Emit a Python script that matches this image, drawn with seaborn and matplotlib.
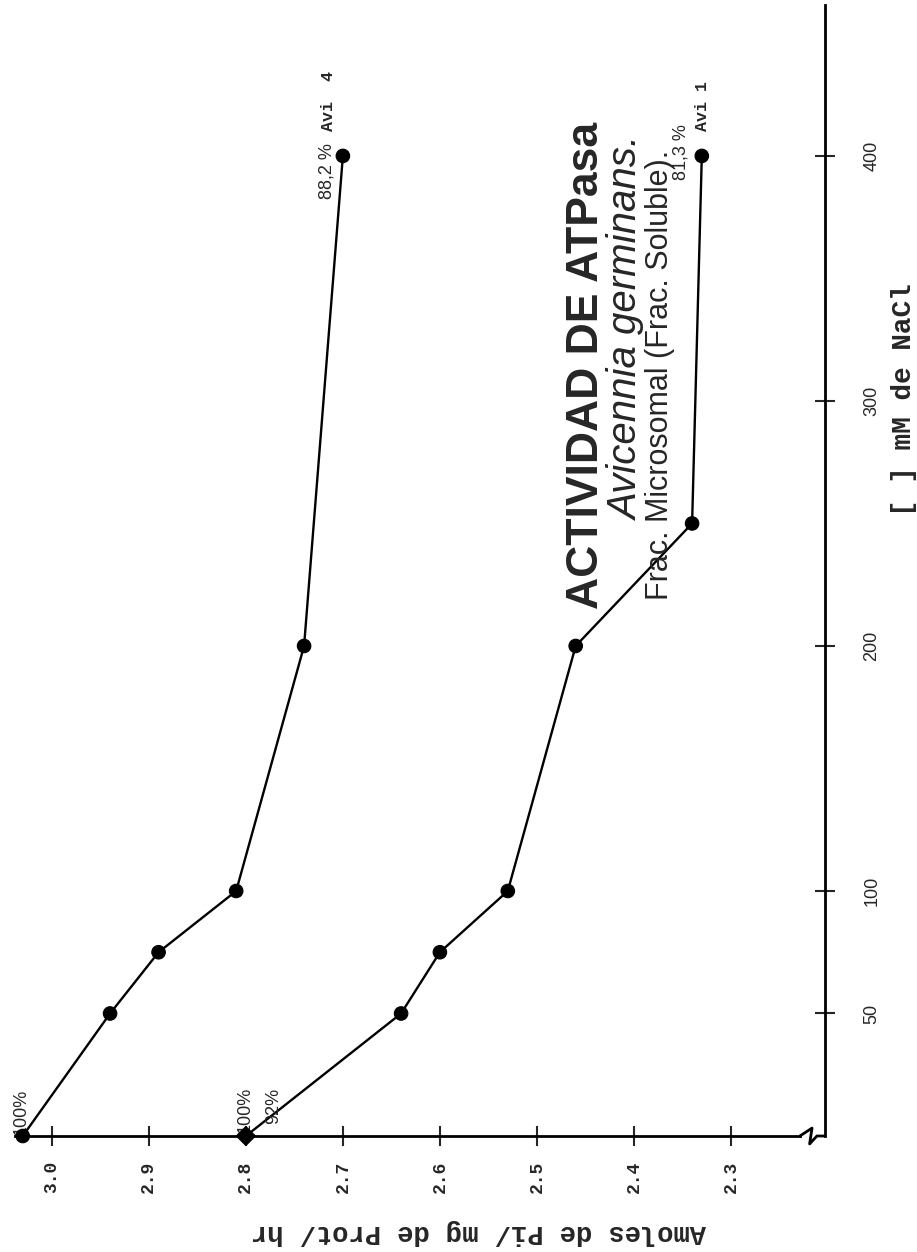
import pandas as pd
import matplotlib
matplotlib.use("Agg")
import matplotlib.pyplot as plt
import seaborn as sns

# Datos (pagina girada 90 grados)
nacl_avi4 = [0, 50, 75, 100, 200, 400]
act_avi4 = [3.03, 2.94, 2.89, 2.81, 2.74, 2.70]
nacl_avi1 = [0, 50, 75, 100, 200, 250, 400]
act_avi1 = [2.80, 2.64, 2.60, 2.53, 2.46, 2.34, 2.33]

act_ticks = [3.0, 2.9, 2.8, 2.7, 2.6, 2.5, 2.4, 2.3]
act_ticklabels = ["3.0", "2.9", "2.8", "2.7", "2.6", "2.5", "2.4", "2.3"]
nacl_ticks = [50, 100, 200, 300, 400]
nacl_ticklabels = ["50", "100", "200", "300", "400"]

sns.set_style("white")
plt.rcParams["font.family"] = ["Liberation Sans", "DejaVu Sans"]
mono = ["Liberation Mono", "DejaVu Sans Mono"]

fig = plt.figure(figsize=(9.17, 12.52), dpi=100)
ax = fig.add_axes([15 / 917, 1 - 1136 / 1252, 810 / 917, 1131 / 1252])

df4 = pd.DataFrame({"act": act_avi4, "nacl": nacl_avi4})
df1 = pd.DataFrame({"act": act_avi1, "nacl": nacl_avi1})
df1["forma"] = ["d"] + ["c"] * (len(df1) - 1)
df4["forma"] = "c"

for df in (df4, df1):
    sns.lineplot(data=df, x="act", y="nacl", sort=False, estimator=None,
                 color="black", linewidth=1.7, ax=ax)
    sns.scatterplot(data=df, x="act", y="nacl", style="forma",
                    markers={"c": "o", "d": "D"}, s=95, color="black",
                    edgecolor="black", legend=False, ax=ax, zorder=4, clip_on=False)

ax.set_xlim(3.038, 2.203)
ax.set_ylim(0, 461.6)

# eje de actividad (abajo)
ax.set_xticks(act_ticks)
ax.set_xticklabels(act_ticklabels, family=mono, weight="bold", fontsize=13)
ax.tick_params(axis="x", direction="inout", length=15, width=1.5,
               pad=10, labelrotation=90, bottom=True)

# eje de NaCl (derecha)
ax.yaxis.tick_right()
ax.set_yticks(nacl_ticks)
ax.set_yticklabels(nacl_ticklabels, fontsize=13, va="center")
ax.tick_params(axis="y", direction="inout", length=15, width=1.5,
               pad=20, labelrotation=90, right=True, left=False)

for side in ["top", "left"]:
    ax.spines[side].set_visible(False)
for side in ["bottom", "right"]:
    ax.spines[side].set_linewidth(2)
    ax.spines[side].set_color("black")

# corte del eje
x0, x1 = ax.get_xlim()
ax.spines["bottom"].set_bounds(x0, x0 + 0.969 * (x1 - x0))
ax.plot([0.969, 0.984, 0.981, 0.99, 1.0], [0.0, 0.007, -0.007, 0.0, 0.0],
        transform=ax.transAxes, color="black", linewidth=2, clip_on=False)

ax.set_xlabel("Amoles de Pi/ mg de Prot/ hr", family=mono, weight="bold",
              fontsize=19.5, rotation=180, va="center", ha="center")
ax.xaxis.set_label_coords((478 - 15) / 810, -(1232 - 1136) / 1131)
ax.yaxis.set_label_position("right")
ax.set_ylabel("[ ] mM de NaCl", family=mono, weight="bold", fontsize=20,
              rotation=90, va="center", ha="center")
ax.yaxis.set_label_coords((904 - 15) / 810, (1136 - 400) / 1131)

# anotaciones junto a los puntos
def nota(texto, x, y, dx, dy, **kw):
    ax.annotate(texto, xy=(x, y), xytext=(dx, dy), textcoords="offset points",
                rotation=90, rotation_mode="anchor", ha="left", va="baseline",
                fontsize=kw.pop("fontsize", 13), **kw)

nota("100%", act_avi4[0], nacl_avi4[0], 2, 1)
nota("100%", act_avi1[0], nacl_avi1[0], 3, 2)
nota("92%", act_avi1[0], nacl_avi1[0], 23, 9)
nota("88,2 %", act_avi4[-1], nacl_avi4[-1], -8, -31)
nota("Avi  4", act_avi4[-1], nacl_avi4[-1], -7, 18, family=mono, weight="bold", fontsize=12)
nota("81,3 %", act_avi1[-1], nacl_avi1[-1], -12, -17)
nota("Avi 1", act_avi1[-1], nacl_avi1[-1], 4, 18, family=mono, weight="bold", fontsize=12)

# titulo
fig.text(598 / 917, 1 - 122 / 1252, "ACTIVIDAD DE ATPasa", rotation=90,
         rotation_mode="anchor", ha="right", va="baseline", fontsize=32, weight="bold")
fig.text(638 / 917, 1 - 136 / 1252, "Avicennia germinans.", rotation=90,
         rotation_mode="anchor", ha="right", va="baseline", fontsize=29, style="italic")
fig.text(668 / 917, 1 - 150 / 1252, "Frac. Microsomal (Frac. Soluble).", rotation=90,
         rotation_mode="anchor", ha="right", va="baseline", fontsize=22)

fig.savefig("out.png", dpi=100, facecolor="white")
